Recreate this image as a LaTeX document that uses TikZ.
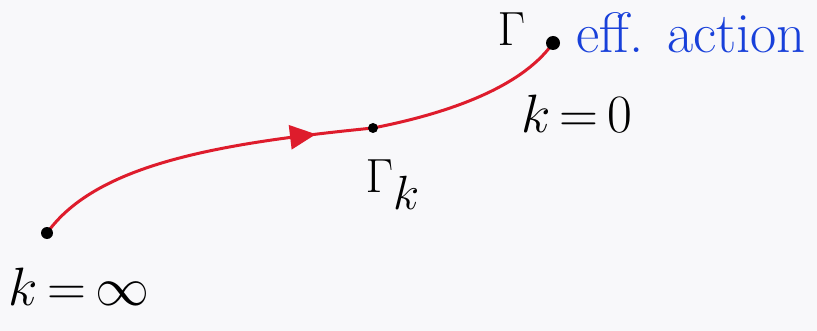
\RequirePackage{fix-cm}
\documentclass[tikz,border=0pt]{standalone}
\usetikzlibrary{arrows.meta, positioning, decorations.markings, backgrounds}
\definecolor{flRed}{RGB}{222,28,44}
\definecolor{flBlue}{RGB}{24,64,218}
\definecolor{flPaper}{RGB}{248,248,250}

\begin{document}
\begin{tikzpicture}[x=0.5pt, y=-0.5pt,
    dot/.style={circle, fill=black, inner sep=0pt},
    lbl/.style={inner sep=0pt, font=\fontsize{27}{30}\selectfont},
    glbl/.style={inner sep=0pt, font=\fontsize{24}{28}\selectfont}]
  \useasboundingbox (0,0) rectangle (817,331);
  % points of the flow
  \node[dot, minimum size=6pt] (kinf) at (47,233) {};
  \node[dot, minimum size=5pt] (kk) at (373,128) {};
  \node[dot, minimum size=7pt] (kzero) at (553,43) {};
  % labels
  \node[lbl, below=14pt of kinf, xshift=16pt] (kinfl) {$k\,{=}\,\infty$};
  \node[glbl, below=13pt of kk, xshift=10pt] (kkl) {$\Gamma_{\textstyle k}$};
  \node[lbl, below=22pt of kzero, xshift=12pt] (kzerol) {$k\,{=}\,0$};
  \node[glbl, left=10pt of kzero, yshift=7pt] (gl) {$\Gamma$};
  \node[glbl, right=8pt of kzero, yshift=5pt, text=flBlue,
        font=\fontsize{28.5}{32}\selectfont] (effl) {eff. action};
  % paper and flow line behind the dots
  \begin{scope}[on background layer]
    \fill[flPaper] (0,0) rectangle (817,331);
    \draw[flRed, line width=1.5pt, postaction={decorate},
          decoration={markings, mark=at position 0.53 with
            {\arrow{Triangle[length=13pt, width=12pt]}}}]
      (kinf.center) .. controls +(50,-70) and +(-150,15) .. (kk.center)
      .. controls +(67,-13) and +(-33,47) .. (kzero.center);
  \end{scope}
\end{tikzpicture}
\end{document}
